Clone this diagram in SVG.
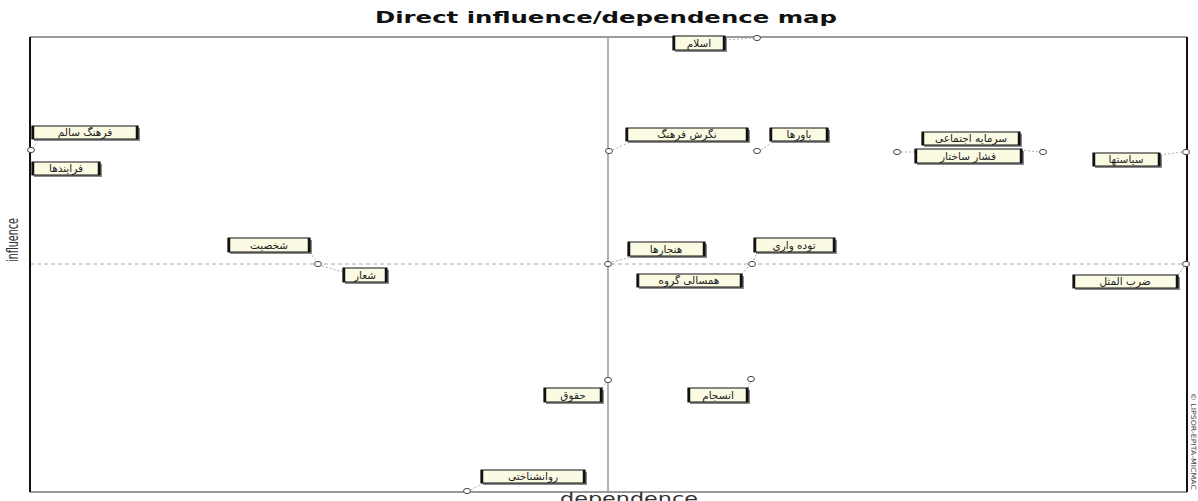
<svg xmlns="http://www.w3.org/2000/svg" width="1198" height="501" viewBox="0 0 1198 501">
<style>
.frameH{stroke:#9a9a9a;stroke-width:2;fill:none}
.frameV{stroke:#111;stroke-width:2;fill:none}
.axisV{stroke:#888;stroke-width:1.3;fill:none}
.axisH{stroke:#aaa;stroke-width:1;stroke-dasharray:4 3;fill:none}
.shadow{fill:#8a8a8a}
.box{fill:#fbfbe4;stroke:#111;stroke-width:1}
.edge{stroke:#111;stroke-width:2.5}
.lbl{font-family:"DejaVu Sans",sans-serif;font-size:10.5px;fill:#222;text-anchor:middle}
.mk{fill:#fff;stroke:#444;stroke-width:1}
.lead{stroke:#999;stroke-width:0.8;stroke-dasharray:2 2;fill:none}
.title{font-family:"DejaVu Sans","Liberation Sans",sans-serif;font-weight:bold;font-size:15px;fill:#111}
.axlbl{font-family:"DejaVu Sans","Liberation Sans",sans-serif;font-size:15px;fill:#333}
</style>
<rect width="1198" height="501" fill="#fff"/>
<text class="title" x="375" y="23" textLength="462" lengthAdjust="spacingAndGlyphs">Direct influence/dependence map</text>
<g id="frame">
<line class="axisH" x1="30" y1="264" x2="1187" y2="264"/>
<line class="axisV" x1="608" y1="37" x2="608" y2="492"/>
<line class="frameH" x1="30" y1="37" x2="1187" y2="37"/>
<line class="frameH" x1="30" y1="492" x2="1187" y2="492"/>
<line class="frameV" x1="30" y1="37" x2="30" y2="492"/>
<line class="frameV" x1="1187" y1="37" x2="1187" y2="492"/>
</g>
<text class="axlbl" x="560" y="504" font-size="14" textLength="138" lengthAdjust="spacingAndGlyphs">dependence</text>
<text class="axlbl" transform="translate(18,262) rotate(-90)" x="0" y="0" font-size="12" textLength="44" lengthAdjust="spacingAndGlyphs">influence</text>
<text transform="translate(1191,393) rotate(90)" x="0" y="0" font-family="DejaVu Sans,sans-serif" font-size="7" fill="#444" textLength="97" lengthAdjust="spacingAndGlyphs">© LIPSOR-EPITA-MICMAC</text>
<g id="connectors">
<line class="lead" x1="725" y1="40" x2="753" y2="38"/>
<line class="lead" x1="613" y1="150" x2="632" y2="141"/>
<line class="lead" x1="761" y1="150" x2="774" y2="141"/>
<line class="lead" x1="1020" y1="150" x2="1039" y2="152"/>
<line class="lead" x1="901" y1="152" x2="915" y2="152"/>
<line class="lead" x1="1160" y1="155" x2="1182" y2="152"/>
<line class="lead" x1="310" y1="252" x2="316" y2="261"/>
<line class="lead" x1="322" y1="266" x2="343" y2="272"/>
<line class="lead" x1="612" y1="262" x2="632" y2="257"/>
<line class="lead" x1="754" y1="260" x2="757" y2="252"/>
<line class="lead" x1="748" y1="267" x2="742" y2="274"/>
<line class="lead" x1="1178" y1="275" x2="1184" y2="267"/>
<line class="lead" x1="602" y1="388" x2="606" y2="383"/>
<line class="lead" x1="748" y1="388" x2="750" y2="383"/>
<line class="lead" x1="471" y1="490" x2="483" y2="483"/>
<line class="lead" x1="33" y1="148" x2="40" y2="138"/>
</g>
<g id="markers">
<ellipse class="mk" cx="757" cy="38" rx="3.5" ry="2.6"/>
<ellipse class="mk" cx="31" cy="150" rx="3.5" ry="2.6"/>
<ellipse class="mk" cx="609" cy="151" rx="3.5" ry="2.6"/>
<ellipse class="mk" cx="757" cy="151" rx="3.5" ry="2.6"/>
<ellipse class="mk" cx="897" cy="152" rx="3.5" ry="2.6"/>
<ellipse class="mk" cx="1043" cy="152" rx="3.5" ry="2.6"/>
<ellipse class="mk" cx="1186" cy="152" rx="3.5" ry="2.6"/>
<ellipse class="mk" cx="318" cy="264" rx="3.5" ry="2.6"/>
<ellipse class="mk" cx="608" cy="264" rx="3.5" ry="2.6"/>
<ellipse class="mk" cx="752" cy="264" rx="3.5" ry="2.6"/>
<ellipse class="mk" cx="1186" cy="264" rx="3.5" ry="2.6"/>
<ellipse class="mk" cx="608" cy="380" rx="3.5" ry="2.6"/>
<ellipse class="mk" cx="751" cy="379" rx="3.5" ry="2.6"/>
<ellipse class="mk" cx="467" cy="491" rx="3.5" ry="2.6"/>
</g>
<g id="n-islam"><rect class="shadow" x="675" y="38" width="52" height="14"/><rect class="box" x="673" y="36" width="52" height="14"/><line class="edge" x1="674" y1="36" x2="674" y2="50"/><line class="edge" x1="724" y1="36" x2="724" y2="50"/><text class="lbl" x="699" y="47">اسلام</text></g>
<g id="n-farhang-salem"><rect class="shadow" x="34" y="128" width="106" height="13"/><rect class="box" x="32" y="126" width="106" height="13"/><line class="edge" x1="33" y1="126" x2="33" y2="139"/><line class="edge" x1="137" y1="126" x2="137" y2="139"/><text class="lbl" x="85" y="136">فرهنگ سالم</text></g>
<g id="n-farayandha"><rect class="shadow" x="34" y="164" width="68" height="13"/><rect class="box" x="32" y="162" width="68" height="13"/><line class="edge" x1="33" y1="162" x2="33" y2="175"/><line class="edge" x1="99" y1="162" x2="99" y2="175"/><text class="lbl" x="66" y="172">فرایندها</text></g>
<g id="n-negaresh"><rect class="shadow" x="628" y="130" width="122" height="13"/><rect class="box" x="626" y="128" width="122" height="13"/><line class="edge" x1="627" y1="128" x2="627" y2="141"/><line class="edge" x1="747" y1="128" x2="747" y2="141"/><text class="lbl" x="687" y="138">نگرش فرهنگ</text></g>
<g id="n-bavarha"><rect class="shadow" x="772" y="130" width="58" height="13"/><rect class="box" x="770" y="128" width="58" height="13"/><line class="edge" x1="771" y1="128" x2="771" y2="141"/><line class="edge" x1="827" y1="128" x2="827" y2="141"/><text class="lbl" x="799" y="138">باورها</text></g>
<g id="n-sarmaye"><rect class="shadow" x="924" y="134" width="98" height="13"/><rect class="box" x="922" y="132" width="98" height="13"/><line class="edge" x1="923" y1="132" x2="923" y2="145"/><line class="edge" x1="1019" y1="132" x2="1019" y2="145"/><text class="lbl" x="971" y="142">سرمایه اجتماعی</text></g>
<g id="n-feshar"><rect class="shadow" x="917" y="151" width="107" height="14"/><rect class="box" x="915" y="149" width="107" height="14"/><line class="edge" x1="916" y1="149" x2="916" y2="163"/><line class="edge" x1="1021" y1="149" x2="1021" y2="163"/><text class="lbl" x="968" y="160">فشار ساختار</text></g>
<g id="n-siasatha"><rect class="shadow" x="1095" y="155" width="67" height="13"/><rect class="box" x="1093" y="153" width="67" height="13"/><line class="edge" x1="1094" y1="153" x2="1094" y2="166"/><line class="edge" x1="1159" y1="153" x2="1159" y2="166"/><text class="lbl" x="1126" y="163">سیاستها</text></g>
<g id="n-shakhsiat"><rect class="shadow" x="230" y="240" width="82" height="14"/><rect class="box" x="228" y="238" width="82" height="14"/><line class="edge" x1="229" y1="238" x2="229" y2="252"/><line class="edge" x1="309" y1="238" x2="309" y2="252"/><text class="lbl" x="269" y="249">شخصیت</text></g>
<g id="n-shoar"><rect class="shadow" x="345" y="270" width="44" height="14"/><rect class="box" x="343" y="268" width="44" height="14"/><line class="edge" x1="344" y1="268" x2="344" y2="282"/><line class="edge" x1="386" y1="268" x2="386" y2="282"/><text class="lbl" x="365" y="279">شعار</text></g>
<g id="n-hanjarha"><rect class="shadow" x="630" y="244" width="77" height="14"/><rect class="box" x="628" y="242" width="77" height="14"/><line class="edge" x1="629" y1="242" x2="629" y2="256"/><line class="edge" x1="704" y1="242" x2="704" y2="256"/><text class="lbl" x="666" y="253">هنجارها</text></g>
<g id="n-tudevar"><rect class="shadow" x="756" y="240" width="81" height="14"/><rect class="box" x="754" y="238" width="81" height="14"/><line class="edge" x1="755" y1="238" x2="755" y2="252"/><line class="edge" x1="834" y1="238" x2="834" y2="252"/><text class="lbl" x="794" y="249">توده واری</text></g>
<g id="n-hamsali"><rect class="shadow" x="639" y="276" width="105" height="13"/><rect class="box" x="637" y="274" width="105" height="13"/><line class="edge" x1="638" y1="274" x2="638" y2="287"/><line class="edge" x1="741" y1="274" x2="741" y2="287"/><text class="lbl" x="689" y="284">همسالی گروه</text></g>
<g id="n-zarbolmasal"><rect class="shadow" x="1075" y="277" width="105" height="13"/><rect class="box" x="1073" y="275" width="105" height="13"/><line class="edge" x1="1074" y1="275" x2="1074" y2="288"/><line class="edge" x1="1177" y1="275" x2="1177" y2="288"/><text class="lbl" x="1125" y="285">ضرب المثل</text></g>
<g id="n-hoghugh"><rect class="shadow" x="546" y="390" width="58" height="14"/><rect class="box" x="544" y="388" width="58" height="14"/><line class="edge" x1="545" y1="388" x2="545" y2="402"/><line class="edge" x1="601" y1="388" x2="601" y2="402"/><text class="lbl" x="573" y="399">حقوق</text></g>
<g id="n-ensejam"><rect class="shadow" x="690" y="390" width="60" height="14"/><rect class="box" x="688" y="388" width="60" height="14"/><line class="edge" x1="689" y1="388" x2="689" y2="402"/><line class="edge" x1="747" y1="388" x2="747" y2="402"/><text class="lbl" x="718" y="399">انسجام</text></g>
<g id="n-ravanshenakhti"><rect class="shadow" x="483" y="472" width="104" height="13"/><rect class="box" x="481" y="470" width="104" height="13"/><line class="edge" x1="482" y1="470" x2="482" y2="483"/><line class="edge" x1="584" y1="470" x2="584" y2="483"/><text class="lbl" x="533" y="480">روانشناختی</text></g>
</svg>
